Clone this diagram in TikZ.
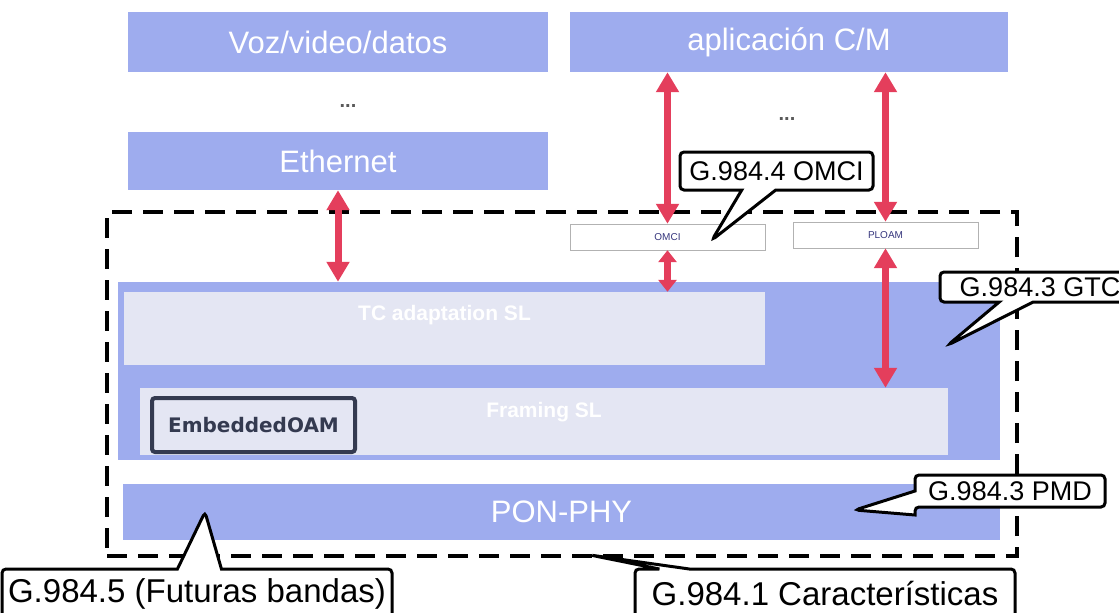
\documentclass[tikz,border=0pt]{standalone}
\usepackage{fontspec}
\setmainfont{Liberation Sans}
\newfontfamily\oamfont{DejaVu Sans}
\usepackage{tikz}
\usetikzlibrary{arrows.meta,shapes.callouts}
\definecolor{layerblue}{RGB}{158,172,238}
\definecolor{sublayer}{RGB}{228,230,243}
\definecolor{linkred}{RGB}{228,62,92}
\definecolor{oamframe}{RGB}{52,58,80}

\begin{document}
\begin{tikzpicture}[x=1pt,y=-1pt,
layer/.style={fill=layerblue,text=white,inner sep=0pt,font=\fontsize{31}{31}\selectfont},
sub/.style={fill=sublayer,inner sep=0pt},
subtxt/.style={text=white,inner sep=0pt,font=\bfseries\fontsize{21}{21}\selectfont},
msg/.style={draw=gray!60,fill=white,inner sep=0pt,text=gray!60!blue!70!black,font=\fontsize{10}{10}\selectfont},
dots/.style={text=gray!70!black,font=\bfseries\fontsize{20}{20}\selectfont},
dbl/.style={linkred,line width=7pt,{Triangle[length=20pt,width=22pt]}-{Triangle[length=20pt,width=22pt]}},
note/.style={rectangle callout,draw=black,line width=3pt,fill=white,rounded corners=4pt,inner sep=0pt,font=\fontsize{27}{27}\selectfont}]
\path[use as bounding box,clip] (0,0) rectangle (1119,613);
% upper layers
\node[layer,minimum width=420pt,minimum height=60pt] (voz) at (338,42) {Voz/video/datos};
\node[layer,minimum width=438pt,minimum height=60pt] (app) at (789,42) {aplicación C/M};
\node[dots] (dotsl) at (348,106) {...};
\node[dots] (dotsr) at (787,119) {...};
\node[layer,minimum width=420pt,minimum height=58pt] (eth) at (338,161) {Ethernet};
% GTC
\node[msg,minimum width=195pt,minimum height=26pt] (omci) at (667.5,237) {OMCI};
\node[msg,minimum width=185pt,minimum height=26pt] (ploam) at (885.5,235) {PLOAM};
\node[fill=layerblue,inner sep=0pt,minimum width=882pt,minimum height=178pt] (gtc) at (559,371) {};
\node[sub,minimum width=641pt,minimum height=73pt,label={[subtxt,yshift=13pt]center:TC adaptation SL}] (tcad) at (444.5,328.5) {};
\node[sub,minimum width=808pt,minimum height=67pt,label={[subtxt,yshift=9pt]center:Framing SL}] (framing) at (544,421.5) {};
\node[draw=oamframe,line width=4pt,rounded corners=3pt,fill=sublayer,inner sep=0pt,minimum width=203pt,minimum height=54pt,
  text=oamframe,font=\oamfont\bfseries\fontsize{20}{20}\selectfont] (oam) at (253.5,425) {EmbeddedOAM};
% PMD
\node[layer,minimum width=877pt,minimum height=56pt] (phy) at (561.5,512) {PON-PHY};
% G-PON frame
\node[draw,line width=3.5pt,dash pattern=on 20pt off 11pt,minimum width=910pt,minimum height=344pt] (gpon) at (562,384) {};
% links
\path[dbl]
(eth.south) edge (eth.south |- gtc.north)
(omci.north |- app.south) edge (omci.north)
(ploam.north |- app.south) edge (ploam.north)
(ploam.south) edge (ploam.south |- framing.north);
\path[dbl,{Triangle[length=12pt,width=18pt]}-{Triangle[length=12pt,width=18pt]}]
(omci.south) edge (omci.south |- tcad.north);
% recommendations
\coordinate (tipomci) at (712,240);
\coordinate (tipgtc) at (948,345);
\coordinate (tippmd) at (855,510);
\coordinate (tipfut) at (205,512);
\coordinate (tipcar) at (590,555);
\node[note,minimum width=193pt,minimum height=38pt,callout absolute pointer={(tipomci)},callout pointer width=34pt] (recomci) at (776.5,171) {G.984.4 OMCI};
\node[note,minimum width=200pt,minimum height=30pt,callout absolute pointer={(tipgtc)},callout pointer width=34pt] (recgtc) at (1040,287) {G.984.3 GTC\hspace{10pt}};
\node[note,minimum width=190pt,minimum height=32pt,callout absolute pointer={(tippmd)},callout pointer width=24pt] (recpmd) at (1010,491) {G.984.3 PMD};
\node[note,minimum width=390pt,minimum height=50pt,font=\fontsize{33}{33}\selectfont,callout absolute pointer={(tipfut)},callout pointer width=44pt] (recfut) at (197,594) {G.984.5 (Futuras bandas)};
\node[note,minimum width=380pt,minimum height=50pt,font=\fontsize{33}{33}\selectfont,callout absolute pointer={(tipcar)},callout pointer width=30pt] (reccar) at (825,594) {G.984.1 Características};
\end{tikzpicture}
\end{document}
